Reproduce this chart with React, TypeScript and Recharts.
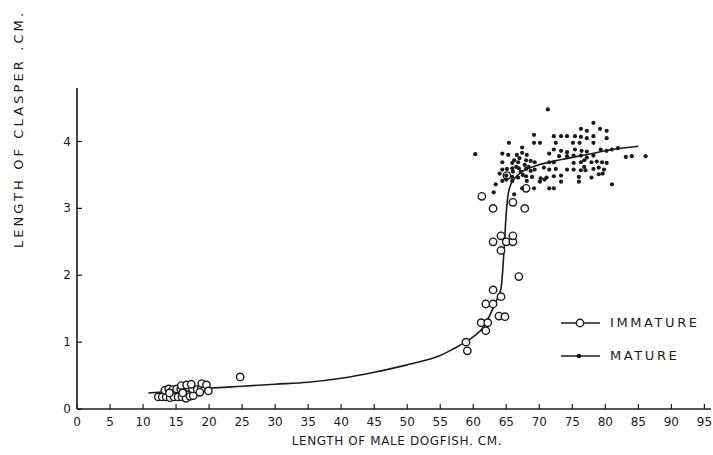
import { Label, Legend, Scatter, ScatterChart, XAxis, YAxis } from 'recharts';

// length of male dogfish (cm) vs length of clasper (cm)
const immature: [number, number][] = [
    [12.3, 0.18], [12.9, 0.18], [13.5, 0.18], [14.1, 0.17], [14.7, 0.18],
    [15.3, 0.18], [15.9, 0.18], [16.5, 0.16], [17.1, 0.19], [17.6, 0.2],
    [13.3, 0.28], [13.9, 0.3], [14.5, 0.29], [15.1, 0.3], [15.7, 0.3],
    [16.3, 0.31], [16.9, 0.32], [17.5, 0.3], [18.2, 0.29], [18.8, 0.3],
    [19.4, 0.32], [15.8, 0.35], [16.6, 0.36], [17.3, 0.37], [18.9, 0.38],
    [19.6, 0.36], [19.9, 0.27], [18.6, 0.25], [14.0, 0.24], [16.0, 0.24],
    [24.7, 0.48],
    [58.9, 1.0], [59.1, 0.87], [61.9, 1.17], [61.2, 1.29], [62.2, 1.29],
    [63.9, 1.39], [64.8, 1.38], [61.9, 1.57], [63.0, 1.57], [63.0, 1.78],
    [64.2, 1.68], [66.9, 1.98], [64.2, 2.37], [63.0, 2.5], [65.0, 2.5],
    [66.0, 2.5], [64.2, 2.59], [66.0, 2.59], [63.0, 3.0], [67.8, 3.0],
    [66.0, 3.09], [61.3, 3.18], [68.0, 3.3], [65.1, 3.49],
];

const mature: [number, number][] = [
    [71.3, 4.48], [78.2, 4.28],
    [76.3, 4.19], [77.2, 4.16], [79.2, 4.19], [80.2, 4.16],
    [69.2, 4.1], [72.2, 4.08], [73.3, 4.08], [74.2, 4.08], [75.4, 4.08],
    [76.3, 4.07], [77.2, 4.05], [78.2, 4.08], [80.2, 4.05],
    [65.4, 3.98], [69.2, 3.98], [70.1, 3.98], [72.5, 3.98], [75.1, 3.98],
    [76.1, 3.98], [78.2, 3.98], [67.4, 3.91],
    [72.2, 3.88], [73.3, 3.86], [74.2, 3.84], [75.4, 3.88], [76.4, 3.86],
    [77.2, 3.85], [79.3, 3.88], [80.2, 3.86], [81.0, 3.88], [81.9, 3.9],
    [60.3, 3.81],
    [64.4, 3.82], [65.3, 3.8], [66.6, 3.8], [67.4, 3.83], [68.1, 3.8], [71.5, 3.82],
    [73.0, 3.78], [74.2, 3.78], [75.2, 3.79], [76.3, 3.79], [77.2, 3.76], [78.2, 3.79],
    [83.1, 3.77], [84.0, 3.78], [86.1, 3.78],
    [64.4, 3.69], [65.9, 3.68], [66.8, 3.69], [68.0, 3.72], [68.7, 3.71],
    [69.3, 3.69], [71.5, 3.69], [72.2, 3.69],
    [75.2, 3.68], [76.3, 3.69], [77.9, 3.69], [78.7, 3.7], [79.5, 3.69], [80.2, 3.68],
    [64.4, 3.58], [65.1, 3.59], [65.9, 3.6], [66.9, 3.6], [68.0, 3.59],
    [68.7, 3.56], [69.3, 3.58], [70.7, 3.61], [71.5, 3.58], [72.5, 3.59],
    [74.2, 3.58], [75.2, 3.58], [76.3, 3.57], [77.0, 3.57], [78.2, 3.59],
    [79.0, 3.61], [79.8, 3.58],
    [65.0, 3.49], [65.9, 3.47], [66.8, 3.46], [68.0, 3.48], [68.9, 3.47],
    [70.2, 3.45], [71.1, 3.46], [72.2, 3.48], [73.3, 3.49],
    [76.0, 3.47], [77.9, 3.46], [79.0, 3.51], [79.6, 3.52],
    [64.4, 3.41], [65.0, 3.43], [65.9, 3.41], [68.1, 3.41], [70.1, 3.4],
    [70.8, 3.43], [73.3, 3.4], [76.0, 3.4], [81.0, 3.36],
    [63.4, 3.36], [67.4, 3.3], [69.2, 3.3], [71.5, 3.3], [72.2, 3.3],
    [63.1, 3.24], [66.2, 3.21],
    [66.5, 3.62], [67.2, 3.55], [67.8, 3.65], [66.2, 3.72], [67.0, 3.75],
    [68.4, 3.62], [66.0, 3.55], [67.5, 3.5], [64.0, 3.52], [76.8, 3.72], [76.8, 3.62],
];

// fitted curve drawn by hand in the original
const curve: [number, number][] = [
    [10.8, 0.24], [15, 0.27], [20, 0.31], [25, 0.34], [30, 0.37], [35, 0.4],
    [40, 0.46], [45, 0.55], [50, 0.66], [52.5, 0.72], [55, 0.8], [57, 0.9],
    [59, 1.01], [60.5, 1.12], [61.5, 1.22], [62.7, 1.44], [63.5, 1.62],
    [64.2, 1.8], [64.7, 2.43], [65, 2.94], [65.3, 3.22], [65.7, 3.36],
    [66.2, 3.44], [67.4, 3.55], [69.6, 3.64], [73.4, 3.73], [77.5, 3.81],
    [81, 3.88], [85, 3.93],
];

const xTicks = [0, 5, 10, 15, 20, 25, 30, 35, 40, 45, 50, 55, 60, 65, 70, 75, 80, 85, 90, 95];
const yTicks = [0, 1, 2, 3, 4];
const legendItems = ['IMMATURE', 'MATURE'];

const INK = '#1b1b1b';
const FONT = '"DejaVu Sans", sans-serif';

const toPoints = (rows: [number, number][]) => rows.map(([len, clasper]) => ({ len, clasper }));

const XTick = (props: any) => {
    const { x, y, payload } = props;
    return (
        <g>
            <line x1={x} y1={y} x2={x} y2={y - 5} stroke={INK} strokeWidth={1.2} />
            <text x={x} y={y + 17} textAnchor="middle" fontFamily={FONT} fontSize={12} fill={INK}>
                {payload.value}
            </text>
        </g>
    );
};

const YTick = (props: any) => {
    const { x, y, payload } = props;
    return (
        <g>
            <line x1={x} y1={y} x2={x + 5} y2={y} stroke={INK} strokeWidth={1.2} />
            <text x={x - 6} y={y + 4} textAnchor="end" fontFamily={FONT} fontSize={12} fill={INK}>
                {payload.value}
            </text>
        </g>
    );
};

const OpenDot = (props: any) => (
    <circle cx={props.cx} cy={props.cy} r={3.7} fill="#fff" stroke={INK} strokeWidth={1.4} />
);

const SolidDot = (props: any) => <circle cx={props.cx} cy={props.cy} r={2.1} fill={INK} />;

const NoDot = () => <g />;

const LegendBox = () => (
    <div style={{ fontFamily: FONT, fontSize: 13, letterSpacing: 2.6, color: INK }}>
        {legendItems.map((name, i) => (
            <div key={name} style={{ display: 'flex', alignItems: 'center', height: 33 }}>
                <svg width={46} height={14} style={{ marginRight: 6 }}>
                    <line x1={3} y1={7} x2={42} y2={7} stroke={INK} strokeWidth={1.4} />
                    {i === 0 ? (
                        <circle cx={22} cy={7} r={3.7} fill="#fff" stroke={INK} strokeWidth={1.4} />
                    ) : (
                        <circle cx={21} cy={7} r={2.3} fill={INK} />
                    )}
                </svg>
                <span>{name}</span>
            </div>
        ))}
    </div>
);

export default function App() {
    return (
        <div style={{ position: 'absolute', left: 0, top: 0, background: '#fff' }}>
            <ScatterChart width={713} height={455} margin={{ top: 88, right: 2, bottom: 16, left: 0 }}>
                <XAxis
                    type="number"
                    dataKey="len"
                    domain={[0, 96]}
                    ticks={xTicks}
                    interval={0}
                    height={30}
                    tickSize={0}
                    tickMargin={0}
                    tickLine={false}
                    tick={<XTick />}
                    axisLine={{ stroke: INK, strokeWidth: 1.6 }}
                >
                    <Label
                        content={() => (
                            <text
                                x={397}
                                y={445}
                                textAnchor="middle"
                                fontFamily={FONT}
                                fontSize={12}
                                letterSpacing={0.6}
                                fill={INK}
                            >
                                LENGTH OF MALE DOGFISH. CM.
                            </text>
                        )}
                    />
                </XAxis>
                <YAxis
                    type="number"
                    dataKey="clasper"
                    domain={[0, 4.8]}
                    ticks={yTicks}
                    interval={0}
                    width={77}
                    tickSize={0}
                    tickMargin={0}
                    tickLine={false}
                    tick={<YTick />}
                    axisLine={{ stroke: INK, strokeWidth: 1.6 }}
                >
                    <Label
                        content={() => (
                            <text
                                transform="translate(23,129) rotate(-90)"
                                textAnchor="middle"
                                fontFamily={FONT}
                                fontSize={13}
                                letterSpacing={3.1}
                                fill={INK}
                            >
                                LENGTH OF CLASPER .CM.
                            </text>
                        )}
                    />
                </YAxis>
                <Legend
                    layout="vertical"
                    align="center"
                    verticalAlign="middle"
                    content={<LegendBox />}
                    wrapperStyle={{ left: 558, top: 306, width: 150 }}
                />
                <Scatter
                    name="curve"
                    data={toPoints(curve)}
                    line={{ stroke: INK, strokeWidth: 1.6 }}
                    lineJointType="monotoneX"
                    shape={<NoDot />}
                    legendType="none"
                    isAnimationActive={false}
                />
                <Scatter
                    name="IMMATURE"
                    data={toPoints(immature)}
                    shape={<OpenDot />}
                    isAnimationActive={false}
                />
                <Scatter
                    name="MATURE"
                    data={toPoints(mature)}
                    shape={<SolidDot />}
                    isAnimationActive={false}
                />
            </ScatterChart>
        </div>
    );
}
